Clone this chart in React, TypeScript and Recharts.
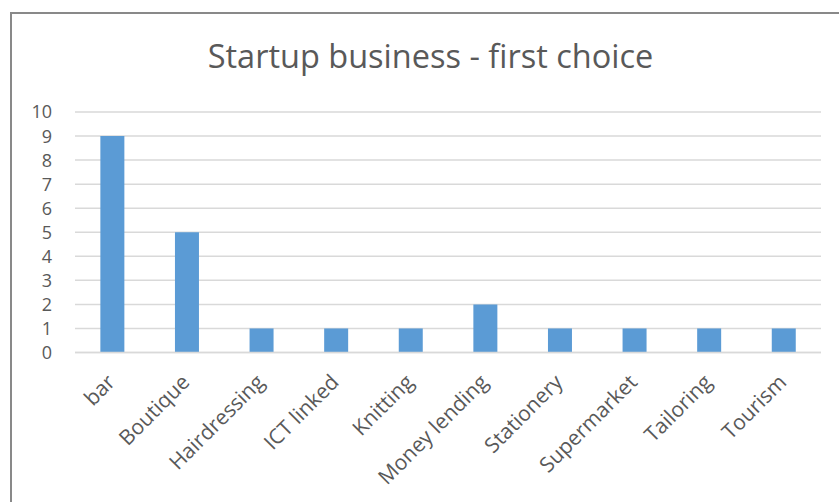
import React from "react";
import { BarChart, Bar, XAxis, YAxis, CartesianGrid } from "recharts";

const categories = [
  "bar",
  "Boutique",
  "Hairdressing",
  "ICT linked",
  "Knitting",
  "Money lending",
  "Stationery",
  "Supermarket",
  "Tailoring",
  "Tourism",
];
const counts = [9, 5, 1, 1, 1, 2, 1, 1, 1, 1];
const yTicks = [0, 1, 2, 3, 4, 5, 6, 7, 8, 9, 10];

const data = categories.map((name, i) => ({ name, value: counts[i] }));

const FONT = "'Open Sans', sans-serif";
const TEXT = "#595959";

const AngledTick = (props: any) => {
  const { x, y, payload } = props;
  const ax = x + 4;
  const ay = y + 23;
  return (
    <text
      x={ax}
      y={ay}
      transform={`rotate(-45, ${ax}, ${ay})`}
      textAnchor="end"
      fill={TEXT}
      fontSize={21}
      fontFamily={FONT}
    >
      {payload.value}
    </text>
  );
};

const ValueTick = (props: any) => {
  const { x, y, payload } = props;
  return (
    <text
      x={x}
      y={y}
      dy="0.36em"
      textAnchor="end"
      fill={TEXT}
      fontSize={18}
      fontFamily={FONT}
    >
      {payload.value}
    </text>
  );
};

const App: React.FC = () => {
  return (
    <div
      style={{
        position: "absolute",
        left: 0,
        top: 0,
        width: 839,
        height: 502,
        background: "#fff",
        overflow: "hidden",
      }}
    >
      <div
        style={{
          position: "absolute",
          left: 10,
          top: 12,
          width: 900,
          height: 600,
          borderLeft: "2px solid #898989",
          borderTop: "2px solid #898989",
        }}
      />
      <div
        style={{
          position: "absolute",
          left: 0,
          width: 861,
          top: 35,
          textAlign: "center",
          fontFamily: FONT,
          fontSize: 32.5,
          color: TEXT,
          lineHeight: "42px",
        }}
      >
        Startup business - first choice
      </div>
      <div style={{ position: "absolute", left: 0, top: 0 }}>
        <BarChart
          width={839}
          height={502}
          data={data}
          margin={{ top: 112, right: 18, bottom: 0, left: 0 }}
          barCategoryGap="34%"
        >
          <CartesianGrid vertical={false} stroke="#d9d9d9" strokeWidth={1.5} />
          <XAxis
            dataKey="name"
            interval={0}
            height={149.5}
            axisLine={{ stroke: "#d9d9d9", strokeWidth: 1.5 }}
            tickLine={false}
            tick={<AngledTick />}
          />
          <YAxis
            width={75}
            domain={[0, 10]}
            ticks={yTicks}
            interval={0}
            axisLine={false}
            tickLine={false}
            tickSize={0}
            tickMargin={23}
            tick={<ValueTick />}
          />
          <Bar dataKey="value" fill="#5b9bd5" isAnimationActive={false} />
        </BarChart>
      </div>
    </div>
  );
};

export default App;
